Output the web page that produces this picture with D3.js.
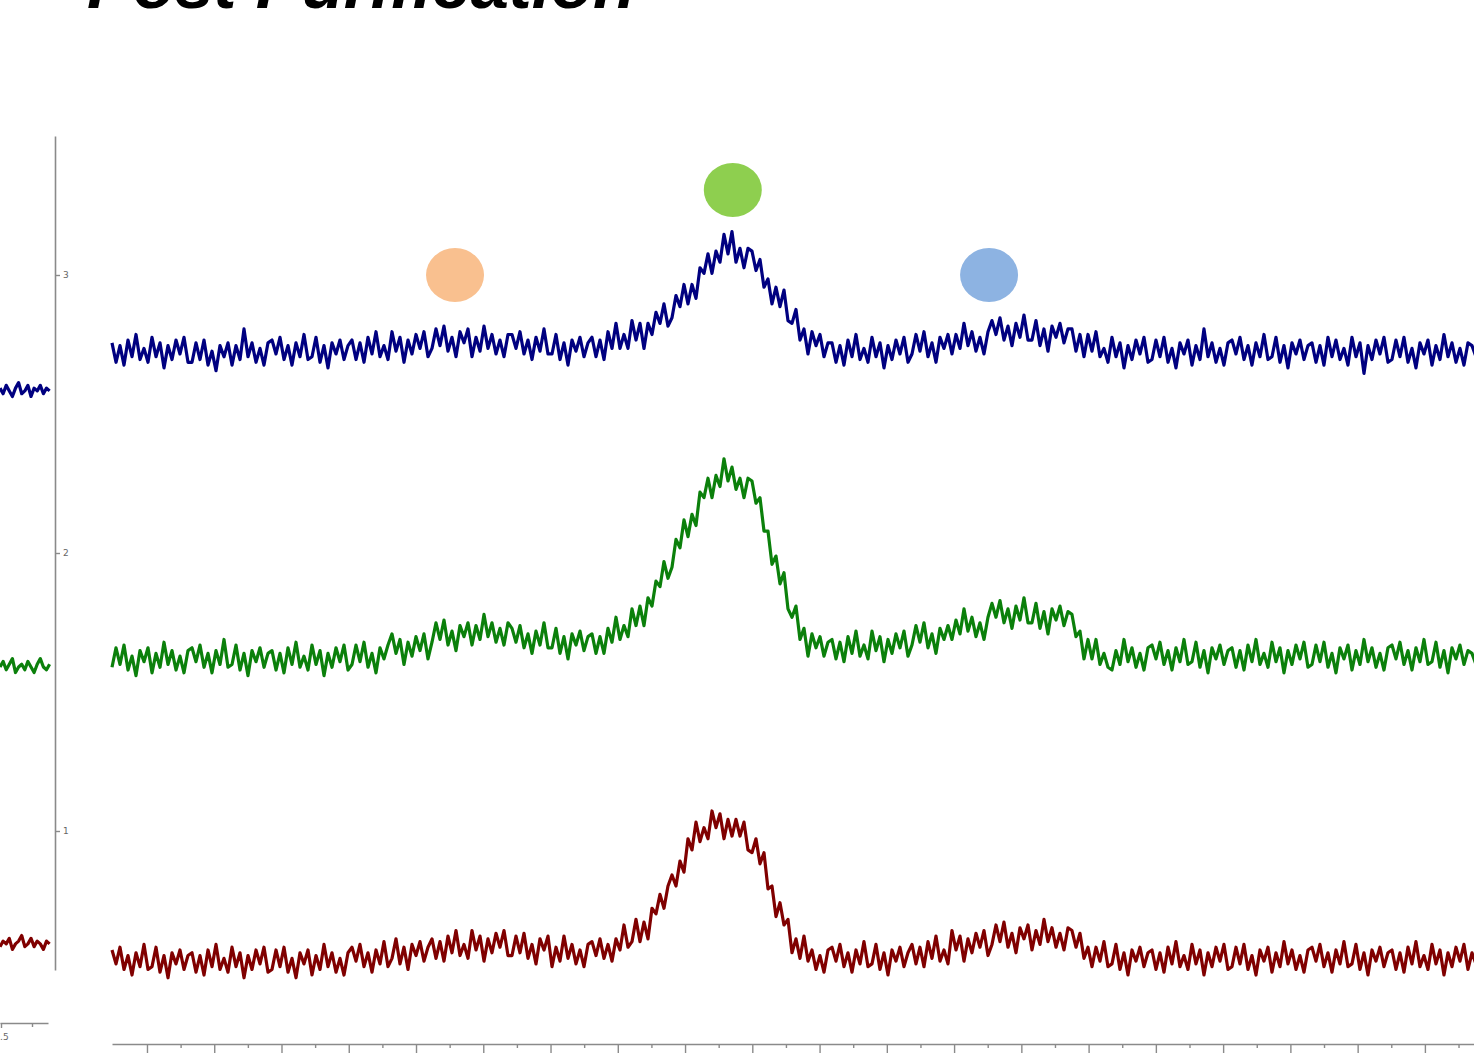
<!DOCTYPE html>
<html>
<head>
<meta charset="utf-8">
<script src="https://cdn.jsdelivr.net/npm/d3@7"></script>
<style>
    body { margin: 0; background: #fff; overflow: hidden; }
    svg { display: block; }
</style>
</head>
<body>
<svg id="spectra" width="1474" height="1053"></svg>
<script>

    // title of the slide (only its lower edge is inside the picture)
    var title = "Post Purification";

    // sampling grid of the traces, in x-axis units
    var xStart = 0.48;
    var xStep = 0.05947;

    // baseline of each trace on the y axis, and signal values (1 = 0.01 y units)
    var traceOffsets = [2.716, 1.619, 0.532];

    var blueTrace = [
        4,-3,3,-4,5,-1,7,-2,2,-3,  6,-1,4,-5,3,-2,5,0,6,-3,  -3,4,-2,5,-4,1,-6,3,-1,4,
        -4,3,-2,9,-1,4,-3,2,-4,4,  5,0,6,-2,3,-4,4,-1,7,-2,  -1,6,-3,3,-5,4,0,5,-2,3,
        5,-2,4,-3,6,0,8,-1,3,-2,  8,1,6,-3,5,0,7,2,8,-1,  2,9,3,10,1,6,-1,8,4,9,
        -1,6,1,10,2,7,0,5,-1,7,  7,2,8,0,5,-2,6,1,9,0,  0,7,-2,4,-4,5,1,6,-1,4,
        6,-1,5,-2,8,2,11,2,7,2,  12,5,11,2,11,7,15,11,18,10,  13,21,17,25,18,25,20,31,29,36,
        29,37,33,43,36,44,33,38,31,38,  37,30,34,24,27,18,24,17,23,12,  11,16,5,9,0,8,3,7,-1,4,
        4,-3,3,-4,5,-1,7,-2,2,-3,  6,-1,4,-5,3,-2,5,0,6,-3,  0,7,1,8,-1,4,-3,6,2,7,
        0,7,2,11,3,8,1,6,0,8,  12,7,13,5,10,3,11,6,14,5,  5,12,3,9,1,10,6,11,4,9,
        9,1,7,-1,7,1,8,-1,2,-3,  6,-1,4,-5,3,-2,5,0,6,-3,  -2,5,-1,6,-3,2,-5,4,0,5,
        -4,3,-2,9,-1,4,-3,2,-4,4,  5,0,6,-2,3,-4,4,-1,7,-2,  -1,6,-3,3,-5,4,0,5,-2,3,
        4,-3,3,-4,6,-1,5,-2,2,-4,  6,-1,4,-7,3,-2,5,0,6,-3,  -2,5,-1,6,-3,2,-5,4,0,5,
        -4,3,-2,7,-1,4,-3,2,-4,4,  3,-1
    ];

    var greenTrace = [
        -3,4,-2,5,-4,1,-6,3,-1,4,  -5,2,-3,6,-2,3,-4,1,-5,3,  4,-1,5,-3,2,-5,3,-2,7,-3,
        -2,5,-4,2,-6,3,-1,4,-3,2,  3,-4,2,-5,4,-2,6,-3,1,-4,  5,-2,3,-6,2,-3,4,-1,5,-4,
        -2,5,-1,6,-3,2,-5,4,0,5,  9,2,7,-2,6,1,8,3,9,0,  6,13,7,14,5,10,3,12,8,13,
        5,12,7,16,8,13,6,11,5,13,  11,6,12,4,9,2,10,5,13,4,  4,11,2,8,0,9,5,10,3,8,
        9,2,8,2,11,6,15,7,12,8,  18,12,19,12,22,19,28,26,35,29,  33,43,40,50,44,52,48,60,58,65,
        58,66,62,72,64,69,61,65,58,65,  64,56,58,46,46,34,37,27,31,18,  15,19,7,11,1,9,4,8,1,6,
        7,0,6,-1,8,2,10,1,5,0,  10,3,8,-1,7,2,9,4,10,1,  5,12,6,13,4,9,2,11,7,12,
        7,14,9,18,10,15,8,13,7,15,  20,15,21,13,18,11,19,14,22,13,  13,20,11,17,9,18,14,19,12,17,
        16,8,10,0,7,0,7,-2,2,-3,  -4,3,-2,7,-1,4,-3,2,-4,4,  5,0,6,-2,3,-4,4,-1,7,-2,
        -1,6,-3,3,-5,4,0,5,-2,3,  4,-3,3,-4,5,-1,7,-2,2,-3,  6,-1,4,-5,3,-2,5,0,6,-3,
        -2,5,-1,6,-3,2,-5,4,0,5,  -4,3,-2,7,-1,4,-3,2,-4,4,  5,0,6,-2,3,-4,4,-1,7,-2,
        -1,6,-3,3,-5,4,0,5,-2,3,  2,-2
    ];

    var redTrace = [
        4,-1,5,-3,2,-5,3,-2,6,-3,  -2,5,-4,2,-6,3,-1,4,-3,2,  3,-4,2,-5,4,-2,6,-3,1,-4,
        5,-2,3,-6,2,-3,4,-1,5,-4,  -3,4,-2,5,-4,1,-6,3,-1,4,  -5,2,-3,6,-2,3,-4,1,-5,3,
        5,0,6,-2,3,-4,4,-1,7,-2,  1,8,-1,5,-3,6,2,7,0,5,  8,1,7,0,9,3,11,2,6,1,
        11,4,9,0,8,3,10,5,11,2,  2,9,3,10,1,6,-1,8,4,9,  -2,5,0,9,1,6,-1,4,-2,6,
        7,2,8,1,6,0,8,4,13,5,  7,15,7,14,8,19,17,24,19,27,  31,27,36,32,44,40,50,43,48,44,
        54,48,53,44,51,45,51,45,50,40,  39,44,35,39,26,27,16,21,13,15,  3,8,1,9,0,4,-3,2,-4,4,
        5,0,6,-2,3,-4,4,-1,7,-2,  -1,6,-3,3,-5,4,0,5,-2,3,  6,-1,5,-2,7,1,9,0,4,-1,
        11,4,9,0,8,3,10,5,11,2,  6,13,7,14,5,10,3,12,8,13,  4,11,6,15,7,12,5,10,4,12,
        11,5,10,1,5,-2,5,0,7,-2,  -1,6,-3,3,-5,4,0,5,-2,3,  4,-3,3,-4,5,-1,7,-2,2,-3,
        6,-1,4,-5,3,-2,5,0,6,-3,  -2,5,-1,6,-3,2,-5,4,0,5,  -4,3,-2,7,-1,4,-3,2,-4,4,
        5,0,6,-2,3,-4,4,-1,7,-2,  -1,6,-3,3,-5,4,0,5,-2,3,  4,-3,3,-4,5,-1,7,-2,2,-3,
        6,-1,4,-5,3,-2,5,0,6,-3,  3,-1
    ];

    // the small overview panel on the far left
    var leftStart = 0.492;
    var leftStep = 0.025;
    var leftOffsets = [2.583, 1.590, 0.594];
    var leftBlue = [1,-1,2,0,-2,1,3,-1,0,2,-2,1,0,2,-1,1,0];
    var leftGreen = [0,2,-1,1,3,-2,0,1,-1,2,0,-2,1,3,0,-1,1];
    var leftRed = [-1,1,0,2,-2,0,1,3,-1,0,2,-1,1,0,-2,1,0];

    // ticks
    var yTicks = [1, 2, 3];
    var xMajorTicks = d3.range(1, 21);
    var xMinorTicks = d3.range(1.5, 21, 1);
    var leftMajorTicks = [0.5];
    var leftMinorTicks = [0.75];

    // peak markers
    var markerX = [5.58, 9.71, 13.52];
    var markerY = [3.0, 3.306, 3.0];

    var traceColors = ["#000080", "#0b800b", "#800000"];
    var markerColors = ["#f9c08f", "#8ecf4f", "#8db3e2"];
    var axisColor = "#8a8a8a";

    var svg = d3.select("#spectra");

    var x = d3.scaleLinear().domain([0.48, 20.73]).range([112, 1474]);
    var y = d3.scaleLinear().domain([0.5, 3.5]).range([970, 136]);
    var lx = d3.scaleLinear().domain([0.4919, 0.879]).range([0, 48]);

    // title, pushed up so that only the bottom of the letters shows
    svg.append("text")
        .attr("x", 87)
        .attr("y", 8)
        .style("font-family", "'Liberation Sans', Arial, sans-serif")
        .style("font-size", "69px")
        .style("font-weight", "bold")
        .style("font-style", "italic")
        .style("fill", "#000")
        .text(title);

    /**
     * styles an axis group the same way everywhere
     */
    function styleAxis(g) {
        g.select(".domain").attr("stroke", axisColor).attr("stroke-width", 1.6);
        g.selectAll(".tick line").attr("stroke", axisColor).attr("stroke-width", 1.4);
        g.selectAll(".tick text")
            .style("font-family", "'DejaVu Sans', sans-serif")
            .style("font-size", "9px")
            .style("fill", "#666");
    }

    // left vertical axis, ticks drawn to the right
    svg.append("g")
        .attr("transform", "translate(55,0)")
        .call(d3.axisRight(y).tickValues(yTicks).tickFormat(d3.format("d"))
            .tickSize(5).tickSizeOuter(0).tickPadding(3))
        .call(styleAxis);

    // bottom axis: major and minor ticks
    svg.append("g")
        .attr("transform", "translate(0,1044)")
        .call(d3.axisBottom(x).tickValues(xMajorTicks).tickSize(9).tickSizeOuter(0).tickFormat(""))
        .call(styleAxis);
    svg.append("g")
        .attr("transform", "translate(0,1044)")
        .call(d3.axisBottom(x).tickValues(xMinorTicks).tickSize(4).tickSizeOuter(0).tickFormat(""))
        .call(styleAxis)
        .select(".domain").remove();

    // small left axis
    svg.append("g")
        .attr("transform", "translate(0,1023)")
        .call(d3.axisBottom(lx).tickValues(leftMajorTicks).tickFormat(d3.format(".1f"))
            .tickSize(5).tickSizeOuter(0).tickPadding(6))
        .call(styleAxis);
    svg.append("g")
        .attr("transform", "translate(0,1023)")
        .call(d3.axisBottom(lx).tickValues(leftMinorTicks).tickSize(4).tickSizeOuter(0).tickFormat(""))
        .call(styleAxis)
        .select(".domain").remove();

    // main traces
    var traces = [blueTrace, greenTrace, redTrace];
    traces.forEach(function (values, k) {
        var line = d3.line()
            .x(function (d, i) { return x(xStart + i * xStep); })
            .y(function (d) { return y(traceOffsets[k] + d * 0.01); });
        svg.append("path")
            .datum(values)
            .attr("d", line)
            .style("fill", "none")
            .style("stroke", traceColors[k])
            .style("stroke-width", 3.2)
            .style("stroke-linejoin", "round");
    });

    // overview traces
    var leftTraces = [leftBlue, leftGreen, leftRed];
    leftTraces.forEach(function (values, k) {
        var line = d3.line()
            .x(function (d, i) { return lx(leftStart + i * leftStep); })
            .y(function (d) { return y(leftOffsets[k] + d * 0.01); });
        svg.append("path")
            .datum(values)
            .attr("d", line)
            .style("fill", "none")
            .style("stroke", traceColors[k])
            .style("stroke-width", 3.2)
            .style("stroke-linejoin", "round");
    });

    // peak markers
    svg.selectAll("ellipse.marker")
        .data(markerX)
        .enter().append("ellipse")
        .attr("class", "marker")
        .attr("cx", function (d) { return x(d); })
        .attr("cy", function (d, i) { return y(markerY[i]); })
        .attr("rx", 29)
        .attr("ry", 27)
        .style("fill", function (d, i) { return markerColors[i]; });

</script>
</body>
</html>
